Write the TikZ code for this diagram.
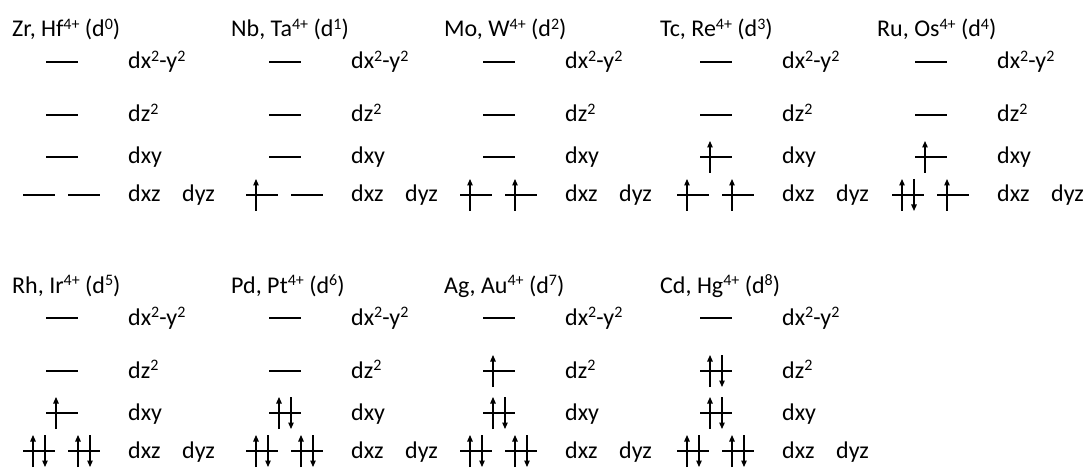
\documentclass[tikz,border=0pt]{standalone}
\usepackage{fontspec}
\setmainfont{Carlito}
\usetikzlibrary{arrows.meta,calc}
\newcommand\supx[1]{\raisebox{0.33em}{\fontsize{16}{16}\selectfont #1}}
\tikzset{
  level/.style={line width=2.3pt},
  spin/.style={line width=1.2pt,-{Triangle[length=6.5pt,width=5.5pt]}},
  ttl/.style={anchor=base west,inner sep=0pt,font=\fontsize{24}{28}\selectfont},
  lbl/.style={anchor=base west,inner sep=0pt,font=\fontsize{24}{28}\selectfont},
}
\newcommand\orbital[4]{%
  \coordinate (#4) at (#1,#2);
  \draw[level] (#4) -- ++(32,0);
  \ifnum#3>0 \draw[spin] ($(#4)+(10,16)$) -- ($(#4)+(10,-16)$);\fi
  \ifnum#3>1 \draw[spin] ($(#4)+(22,-16)$) -- ($(#4)+(22,16)$);\fi
}
% #1 panel x, #2 panel y, #3 name, #4 title x, #5 title, #6..#9 occupancies of dx2-y2, dz2, dxy, dxz; dyz from \dyzocc
\newcommand\dpanel[9]{%
  \node[ttl] (#3-t) at (#4,#2+37) {#5};
  \orbital{#1+46}{#2+62}{#6}{#3-a}
  \node[lbl] (#3-la) at (#1+128,#2+69) {dx\supx{2}-y\supx{2}};
  \orbital{#1+46}{#2+115}{#7}{#3-b}
  \node[lbl] (#3-lb) at (#1+128,#2+122) {dz\supx{2}};
  \orbital{#1+46}{#2+157}{#8}{#3-c}
  \node[lbl] (#3-lc) at (#1+128,#2+164) {dxy};
  \orbital{#1+23}{#2+195}{#9}{#3-d}
  \orbital{#1+68}{#2+195}{\dyzocc}{#3-e}
  \node[lbl] (#3-ld) at (#1+128,#2+202) {dxz};
  \node[lbl] (#3-le) at (#1+182,#2+202) {dyz};
}
\begin{document}
\begin{tikzpicture}[x=1pt,y=-1pt]
\useasboundingbox[fill=white] (0,0) rectangle (1088,468);
\def\dyzocc{0}\dpanel{0}{0}{p0}{12}{Zr, Hf\supx{4+} (d\supx{0})}{0}{0}{0}{0}
\def\dyzocc{0}\dpanel{223}{0}{p1}{231}{Nb, Ta\supx{4+} (d\supx{1})}{0}{0}{0}{1}
\def\dyzocc{1}\dpanel{437}{0}{p2}{444}{Mo, W\supx{4+} (d\supx{2})}{0}{0}{0}{1}
\def\dyzocc{1}\dpanel{654}{0}{p3}{660}{Tc, Re\supx{4+} (d\supx{3})}{0}{0}{1}{1}
\def\dyzocc{1}\dpanel{869}{0}{p4}{877}{Ru, Os\supx{4+} (d\supx{4})}{0}{0}{1}{2}
\def\dyzocc{2}\dpanel{0}{256}{p5}{12}{Rh, Ir\supx{4+} (d\supx{5})}{0}{0}{1}{2}
\def\dyzocc{2}\dpanel{223}{256}{p6}{231}{Pd, Pt\supx{4+} (d\supx{6})}{0}{0}{2}{2}
\def\dyzocc{2}\dpanel{437}{256}{p7}{444}{Ag, Au\supx{4+} (d\supx{7})}{0}{1}{2}{2}
\def\dyzocc{2}\dpanel{654}{256}{p8}{660}{Cd, Hg\supx{4+} (d\supx{8})}{0}{2}{2}{2}
\end{tikzpicture}
\end{document}
